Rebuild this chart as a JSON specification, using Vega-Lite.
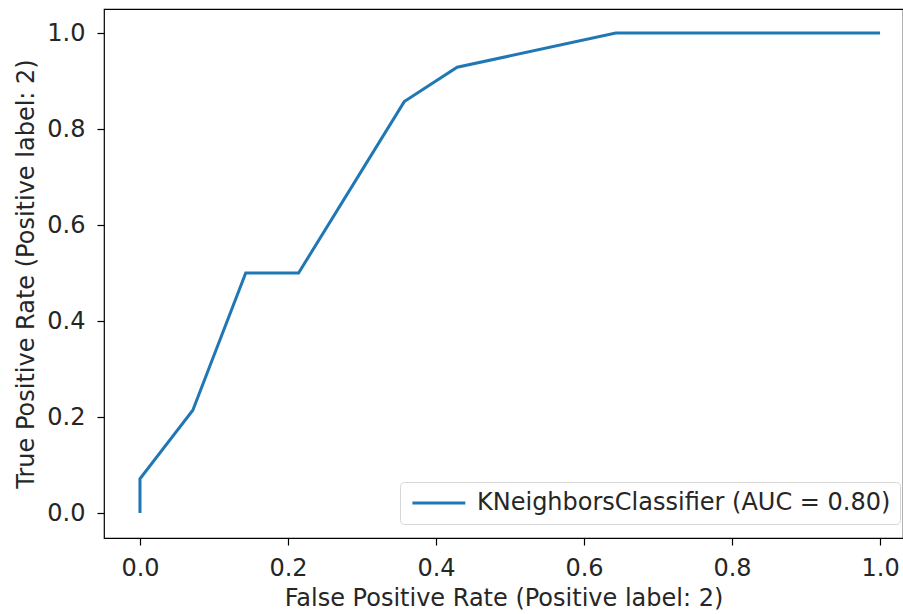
{
  "$schema": "https://vega.github.io/schema/vega-lite/v6.json",
  "width": 799,
  "height": 529,
  "autosize": {"type": "none"},
  "padding": {"left": 104, "top": 9, "right": 0, "bottom": 76},
  "background": "white",
  "config": {
    "font": "DejaVu Sans",
    "view": {"stroke": "#000000", "strokeWidth": 1.2},
    "axis": {
      "grid": false,
      "domain": false,
      "tickColor": "#000000",
      "tickWidth": 1.2,
      "tickSize": 7,
      "labelFont": "DejaVu Sans",
      "labelFontSize": 24,
      "labelColor": "#262626",
      "titleFont": "DejaVu Sans",
      "titleFontSize": 24,
      "titleFontWeight": "normal",
      "titleColor": "#262626"
    }
  },
  "data": {
    "values": [
      {"i": 0, "fpr": 0.0, "tpr": 0.0, "model": "KNeighborsClassifier (AUC = 0.80)"},
      {"i": 1, "fpr": 0.0, "tpr": 0.0714, "model": "KNeighborsClassifier (AUC = 0.80)"},
      {"i": 2, "fpr": 0.0714, "tpr": 0.2143, "model": "KNeighborsClassifier (AUC = 0.80)"},
      {"i": 3, "fpr": 0.1429, "tpr": 0.5, "model": "KNeighborsClassifier (AUC = 0.80)"},
      {"i": 4, "fpr": 0.2143, "tpr": 0.5, "model": "KNeighborsClassifier (AUC = 0.80)"},
      {"i": 5, "fpr": 0.3571, "tpr": 0.8571, "model": "KNeighborsClassifier (AUC = 0.80)"},
      {"i": 6, "fpr": 0.4286, "tpr": 0.9286, "model": "KNeighborsClassifier (AUC = 0.80)"},
      {"i": 7, "fpr": 0.6429, "tpr": 1.0, "model": "KNeighborsClassifier (AUC = 0.80)"},
      {"i": 8, "fpr": 1.0, "tpr": 1.0, "model": "KNeighborsClassifier (AUC = 0.80)"}
    ]
  },
  "mark": {"type": "line", "strokeWidth": 3, "clip": true},
  "encoding": {
    "x": {
      "field": "fpr",
      "type": "quantitative",
      "scale": {"domain": [-0.0486, 1.031], "nice": false, "zero": false},
      "axis": {
        "title": "False Positive Rate (Positive label: 2)",
        "values": [0, 0.2, 0.4, 0.6, 0.8, 1.0],
        "format": ".1f",
        "labelPadding": 11,
        "titlePadding": 6
      }
    },
    "y": {
      "field": "tpr",
      "type": "quantitative",
      "scale": {"domain": [-0.052, 1.05], "nice": false, "zero": false},
      "axis": {
        "title": "True Positive Rate (Positive label: 2)",
        "values": [0, 0.2, 0.4, 0.6, 0.8, 1.0],
        "format": ".1f",
        "labelPadding": 12,
        "titlePadding": 8
      }
    },
    "order": {"field": "i", "type": "quantitative"},
    "color": {
      "field": "model",
      "type": "nominal",
      "scale": {"range": ["#1f77b4"]},
      "legend": {
        "title": null,
        "orient": "none",
        "legendX": 296,
        "legendY": 473,
        "symbolType": "M-1.3,0H6.7",
        "symbolSize": 175,
        "symbolStrokeWidth": 3,
        "symbolFillColor": "transparent",
        "labelFont": "DejaVu Sans",
        "labelFontSize": 24,
        "labelColor": "#262626",
        "labelOffset": 44,
        "labelLimit": 600,
        "padding": 9,
        "fillColor": "white",
        "strokeColor": "#d6d6d6",
        "cornerRadius": 4
      }
    }
  }
}
